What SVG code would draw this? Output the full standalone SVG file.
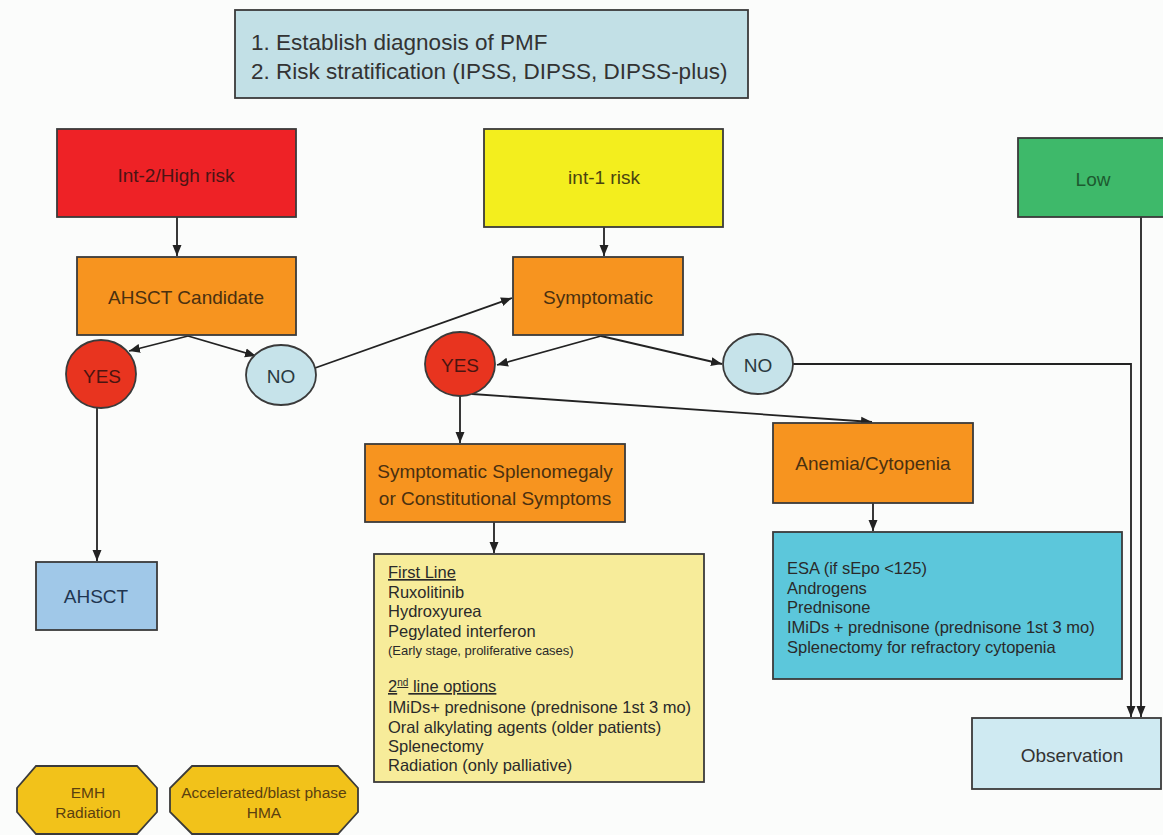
<svg xmlns="http://www.w3.org/2000/svg" width="1163" height="835" viewBox="0 0 1163 835">
<defs>
<marker id="ah" markerUnits="userSpaceOnUse" markerWidth="12" markerHeight="10" refX="11" refY="5" orient="auto">
<path d="M0,0.5 L11,5 L0,9.5 Z" fill="#222"/>
</marker>
<style>
text{font-family:"Liberation Sans",Arial,sans-serif;}
.box{stroke:#3a3a3a;stroke-width:1.8;}
.lbl{font-size:19px;text-anchor:middle;dominant-baseline:central;}
.list{font-size:16.5px;fill:#2a2a2a;}
.conn{fill:none;stroke:#222;stroke-width:1.8;}
.arr{marker-end:url(#ah);}
.ul{text-decoration:underline;}
</style>
</defs>
<rect width="1163" height="835" fill="#fbfcfb"/>

<g id="connectors">
<line class="conn arr" x1="177" y1="217" x2="177" y2="256"/>
<polyline class="conn arr" points="188,336 129,351"/>
<polyline class="conn arr" points="188,336 256,356"/>
<line class="conn arr" x1="315" y1="368" x2="512" y2="298"/>
<line class="conn arr" x1="97" y1="408" x2="97" y2="561"/>
<line class="conn arr" x1="604" y1="227" x2="604" y2="256"/>
<polyline class="conn arr" points="601,336 497,365"/>
<polyline class="conn arr" points="601,336 722,364"/>
<polyline class="conn arr" points="793,364 1131,364 1131,717"/>
<line class="conn arr" x1="1141" y1="217" x2="1141" y2="717"/>
<line class="conn arr" x1="460" y1="396" x2="460" y2="443"/>
<line class="conn arr" x1="472" y1="394" x2="872" y2="422"/>
<line class="conn arr" x1="494" y1="522" x2="494" y2="553"/>
<line class="conn arr" x1="873" y1="503" x2="873" y2="531"/>
</g>

<g id="top">
<rect class="box" x="235" y="10" width="513" height="88" fill="#c2e0e6"/>
<text x="251" y="50" font-size="22.5" fill="#333">1. Establish diagnosis of PMF</text>
<text x="251" y="79" font-size="22.5" fill="#333">2. Risk stratification (IPSS, DIPSS, DIPSS-plus)</text>
</g>

<g id="int2">
<rect class="box" x="57" y="129" width="239" height="88" fill="#ee2226"/>
<text class="lbl" x="176" y="175" fill="#4a1414">Int-2/High risk</text>
</g>

<g id="int1">
<rect class="box" x="484" y="129" width="239" height="98" fill="#f3ee1e"/>
<text class="lbl" x="604" y="177" fill="#4a4410">int-1 risk</text>
</g>

<g id="low">
<rect class="box" x="1018" y="138" width="150" height="79" fill="#3eb96a"/>
<text class="lbl" x="1093" y="179" fill="#1d5a30">Low</text>
</g>

<g id="ahsct-candidate">
<rect class="box" x="77" y="257" width="219" height="78" fill="#f7941f"/>
<text class="lbl" x="186" y="297" fill="#4a3010">AHSCT Candidate</text>
</g>

<g id="symptomatic">
<rect class="box" x="513" y="257" width="170" height="78" fill="#f7941f"/>
<text class="lbl" x="598" y="297" fill="#4a3010">Symptomatic</text>
</g>

<g id="yes1">
<ellipse class="box" cx="101" cy="374" rx="35" ry="34" fill="#e8341f"/>
<text class="lbl" x="102" y="376" fill="#4a1410">YES</text>
</g>

<g id="no1">
<ellipse class="box" cx="281" cy="375" rx="35" ry="30" fill="#c6e3ea"/>
<text class="lbl" x="281" y="376" fill="#2a3a40">NO</text>
</g>

<g id="yes2">
<ellipse class="box" cx="460" cy="364" rx="35" ry="32" fill="#e8341f"/>
<text class="lbl" x="460" y="365" fill="#4a1410">YES</text>
</g>

<g id="no2">
<ellipse class="box" cx="758" cy="364" rx="35" ry="30" fill="#c6e3ea"/>
<text class="lbl" x="758" y="365" fill="#2a3a40">NO</text>
</g>

<g id="ahsct">
<rect class="box" x="36" y="562" width="121" height="68" fill="#a0c8e8"/>
<text class="lbl" x="96" y="596" fill="#1f3550">AHSCT</text>
</g>

<g id="splenomegaly">
<rect class="box" x="365" y="444" width="260" height="78" fill="#f7941f"/>
<text class="lbl" x="495" y="471" fill="#4a3010">Symptomatic Splenomegaly</text>
<text class="lbl" x="495" y="498" fill="#4a3010">or Constitutional Symptoms</text>
</g>

<g id="anemia">
<rect class="box" x="773" y="423" width="200" height="80" fill="#f7941f"/>
<text class="lbl" x="873" y="463" fill="#4a3010">Anemia/Cytopenia</text>
</g>

<g id="first-line">
<rect class="box" x="374" y="554" width="330" height="228" fill="#f7ec9a"/>
<text class="list ul" x="388" y="578">First Line</text>
<text class="list" x="388" y="598">Ruxolitinib</text>
<text class="list" x="388" y="617">Hydroxyurea</text>
<text class="list" x="388" y="637">Pegylated interferon</text>
<text x="388" y="655" font-size="13" fill="#2a2a2a">(Early stage, proliferative cases)</text>
<text class="list ul" x="388" y="692">2<tspan font-size="10" dy="-6">nd</tspan><tspan dy="6"> line options</tspan></text>
<text class="list" x="388" y="713">IMiDs+ prednisone (prednisone 1st 3 mo)</text>
<text class="list" x="388" y="733">Oral alkylating agents (older patients)</text>
<text class="list" x="388" y="752">Splenectomy</text>
<text class="list" x="388" y="771">Radiation (only palliative)</text>
</g>

<g id="anemia-tx">
<rect class="box" x="773" y="532" width="349" height="147" fill="#5cc7db"/>
<text class="list" x="787" y="574" fill="#1f3a50">ESA (if sEpo &lt;125)</text>
<text class="list" x="787" y="594" fill="#1f3a50">Androgens</text>
<text class="list" x="787" y="613" fill="#1f3a50">Prednisone</text>
<text class="list" x="787" y="633" fill="#1f3a50">IMiDs + prednisone (prednisone 1st 3 mo)</text>
<text class="list" x="787" y="653" fill="#1f3a50">Splenectomy for refractory cytopenia</text>
</g>

<g id="observation">
<rect class="box" x="972" y="718" width="189" height="71" fill="#cfeaf2"/>
<text class="lbl" x="1072" y="755" fill="#333">Observation</text>
</g>

<g id="emh">
<polygon class="box" points="36,766 137,766 157,788 157,812 137,834 36,834 17,812 17,788" fill="#f2c21a"/>
<text x="88" y="798" font-size="15.5" text-anchor="middle" fill="#5a4010">EMH</text>
<text x="88" y="818" font-size="15.5" text-anchor="middle" fill="#5a4010">Radiation</text>
</g>

<g id="blast">
<polygon class="box" points="192,766 338,766 358,788 358,812 338,834 192,834 170,812 170,788" fill="#f2c21a"/>
<text x="264" y="798" font-size="15.5" text-anchor="middle" fill="#5a4010">Accelerated/blast phase</text>
<text x="264" y="818" font-size="15.5" text-anchor="middle" fill="#5a4010">HMA</text>
</g>
</svg>
